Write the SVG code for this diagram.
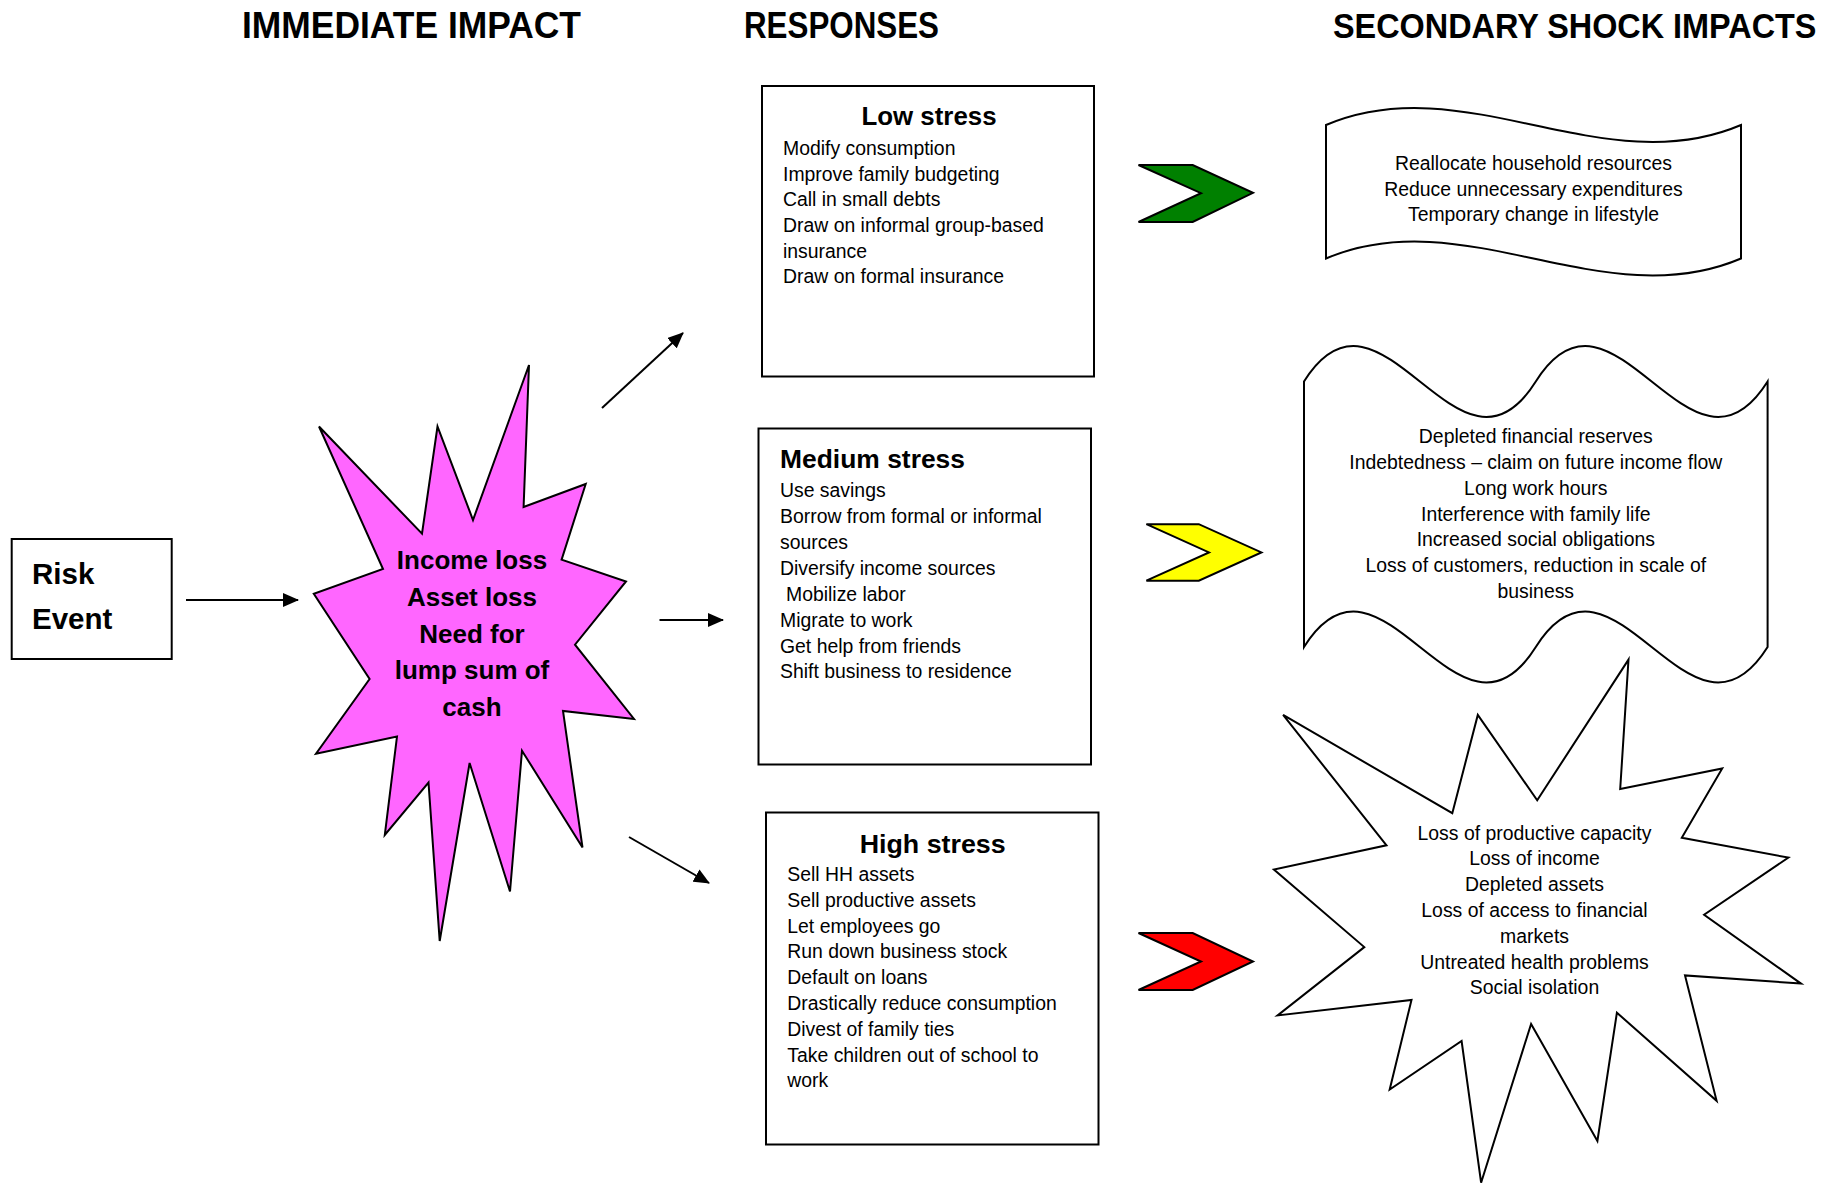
<svg xmlns="http://www.w3.org/2000/svg" width="1827" height="1186" viewBox="0 0 1827 1186">
<style>
text{font-family:"Liberation Sans",Arial,sans-serif;fill:#000}
.title{font-size:36px;font-weight:bold}
.hd{font-size:26px;font-weight:bold}
.body{font-size:19.4px}
.c{text-anchor:middle}
.box{fill:#fff;stroke:#000;stroke-width:2}
.shape{stroke:#000;stroke-width:2;stroke-linejoin:miter}
.conn{stroke:#000;stroke-width:2;fill:none}
</style>
<defs>
<marker id="ah" viewBox="0 0 16 14" refX="15" refY="7" markerWidth="16" markerHeight="14" markerUnits="userSpaceOnUse" orient="auto">
<path d="M0,0 L16,7 L0,14 Z" fill="#000"/>
</marker>
</defs>
<rect width="1827" height="1186" fill="#fff"/>

<g id="titles">
<text class="title" x="242" y="38" textLength="339" lengthAdjust="spacingAndGlyphs">IMMEDIATE IMPACT</text>
<text class="title" x="744" y="38" textLength="195" lengthAdjust="spacingAndGlyphs">RESPONSES</text>
<text class="title" transform="translate(1333,38) scale(0.9,1)" x="0" y="0">SECONDARY SHOCK IMPACTS</text>
</g>

<g id="risk-event">
<rect class="box" x="11.7" y="539" width="160" height="120"/>
<text class="hd" x="32" y="584" style="font-size:29.5px">Risk</text>
<text class="hd" x="32" y="629" style="font-size:29.5px">Event</text>
</g>

<g id="immediate-impact">
<polygon class="shape" fill="#FF66FF" points="319,426.5 422,533.7 437.5,426.5 473,520 529,365 523.6,507 585.7,484 561.6,559.7 626,581.5 575,644.7 634,719 563,711 582.5,847.5 522,750.7 510,891.5 469.6,763 439.7,941 428.5,782.5 384.8,835 397,736.5 316,753.7 369.6,679 313.8,593.8 383,569"/>
<text class="hd c" x="472" y="569">Income loss</text>
<text class="hd c" x="472" y="605.8">Asset loss</text>
<text class="hd c" x="472" y="642.6">Need for</text>
<text class="hd c" x="472" y="679.4">lump sum of</text>
<text class="hd c" x="472" y="716.2">cash</text>
</g>

<g id="low-stress">
<rect class="box" x="762" y="86" width="332" height="290.5"/>
<text class="hd c" x="929" y="125" textLength="135" lengthAdjust="spacingAndGlyphs">Low stress</text>
<text class="body" x="783" y="155">Modify consumption</text>
<text class="body" x="783" y="180.7">Improve family budgeting</text>
<text class="body" x="783" y="206.3">Call in small debts</text>
<text class="body" x="783" y="232">Draw on informal group-based</text>
<text class="body" x="783" y="257.7">insurance</text>
<text class="body" x="783" y="283.3">Draw on formal insurance</text>
</g>

<g id="medium-stress">
<rect class="box" x="758.5" y="428.5" width="332.5" height="336"/>
<text class="hd" x="780" y="468" textLength="185" lengthAdjust="spacingAndGlyphs">Medium stress</text>
<text class="body" x="780" y="497.3">Use savings</text>
<text class="body" x="780" y="523.2">Borrow from formal or informal</text>
<text class="body" x="780" y="549">sources</text>
<text class="body" x="780" y="575">Diversify income sources</text>
<text class="body" x="786" y="600.9">Mobilize labor</text>
<text class="body" x="780" y="626.7">Migrate to work</text>
<text class="body" x="780" y="652.6">Get help from friends</text>
<text class="body" x="780" y="678.4">Shift business to residence</text>
</g>

<g id="high-stress">
<rect class="box" x="766" y="812.5" width="332.5" height="332"/>
<text class="hd c" x="932.7" y="853" textLength="146" lengthAdjust="spacingAndGlyphs">High stress</text>
<text class="body" x="787.3" y="881">Sell HH assets</text>
<text class="body" x="787.3" y="906.8">Sell productive assets</text>
<text class="body" x="787.3" y="932.6">Let employees go</text>
<text class="body" x="787.3" y="958.4">Run down business stock</text>
<text class="body" x="787.3" y="984.2">Default on loans</text>
<text class="body" x="787.3" y="1010">Drastically reduce consumption</text>
<text class="body" x="787.3" y="1035.8">Divest of family ties</text>
<text class="body" x="787.3" y="1061.6">Take children out of school to</text>
<text class="body" x="787.3" y="1087.4">work</text>
</g>

<g id="low-impacts">
<path class="shape" fill="#fff" d="M1326,125 C1464.3,66 1602.7,184 1741,125 L1741,258.5 C1602.7,317.5 1464.3,199.5 1326,258.5 Z"/>
<text class="body c" x="1533.5" y="170">Reallocate household resources</text>
<text class="body c" x="1533.5" y="195.7">Reduce unnecessary expenditures</text>
<text class="body c" x="1533.5" y="221.3">Temporary change in lifestyle</text>
</g>

<g id="medium-impacts">
<path class="shape" fill="#fff" d="M1304,381.5 C1381.3,258.5 1458.5,504.5 1535.8,381.5 C1613,258.5 1690.3,504.5 1767.6,381.5 L1767.6,647 C1690.3,770 1613,524 1535.8,647 C1458.5,770 1381.3,524 1304,647 Z"/>
<text class="body c" x="1535.8" y="443">Depleted financial reserves</text>
<text class="body c" x="1535.8" y="469">Indebtedness – claim on future income flow</text>
<text class="body c" x="1535.8" y="494.8">Long work hours</text>
<text class="body c" x="1535.8" y="520.6">Interference with family life</text>
<text class="body c" x="1535.8" y="546.4">Increased social obligations</text>
<text class="body c" x="1535.8" y="572.2">Loss of customers, reduction in scale of</text>
<text class="body c" x="1535.8" y="598">business</text>
</g>

<g id="high-impacts">
<polygon class="shape" fill="#fff" points="1283.1,714.9 1452.3,813.2 1477.8,714.9 1537.2,800.3 1628.5,659.6 1620.2,789 1722.2,768.5 1681.8,837.8 1788.4,857.6 1704.1,914.7 1801,983.6 1685,975.4 1716.6,1100.8 1616.9,1012.7 1597.4,1141 1531.1,1024 1481.1,1182.7 1461.6,1041 1389.7,1089.5 1411.5,1000 1277.6,1015.4 1364.3,947.1 1273.9,869.6 1386.5,845.3"/>
<text class="body c" x="1534.5" y="839.5">Loss of productive capacity</text>
<text class="body c" x="1534.5" y="865.3">Loss of income</text>
<text class="body c" x="1534.5" y="891.1">Depleted assets</text>
<text class="body c" x="1534.5" y="916.9">Loss of access to financial</text>
<text class="body c" x="1534.5" y="942.7">markets</text>
<text class="body c" x="1534.5" y="968.5">Untreated health problems</text>
<text class="body c" x="1534.5" y="994.3">Social isolation</text>
</g>

<g id="connectors">
<line class="conn" x1="186" y1="600" x2="298" y2="600" marker-end="url(#ah)"/>
<line class="conn" x1="602" y1="408" x2="683" y2="333" marker-end="url(#ah)"/>
<line class="conn" x1="659.5" y1="620" x2="723" y2="620" marker-end="url(#ah)"/>
<line class="conn" x1="629" y1="837" x2="709" y2="883" marker-end="url(#ah)"/>
<polygon class="shape" fill="#008000" points="1138.5,165 1192.7,165 1253,192.8 1192.7,222 1138.5,222 1201,193.2"/>
<polygon class="shape" fill="#FFFF00" points="1146.4,524.2 1198.8,524.2 1261.4,552.4 1198.8,580.7 1146.4,580.7 1209,552.4"/>
<polygon class="shape" fill="#FF0000" points="1138.5,933 1192.7,933 1253,961.5 1192.7,990 1138.5,990 1201,961.5"/>
</g>
</svg>
